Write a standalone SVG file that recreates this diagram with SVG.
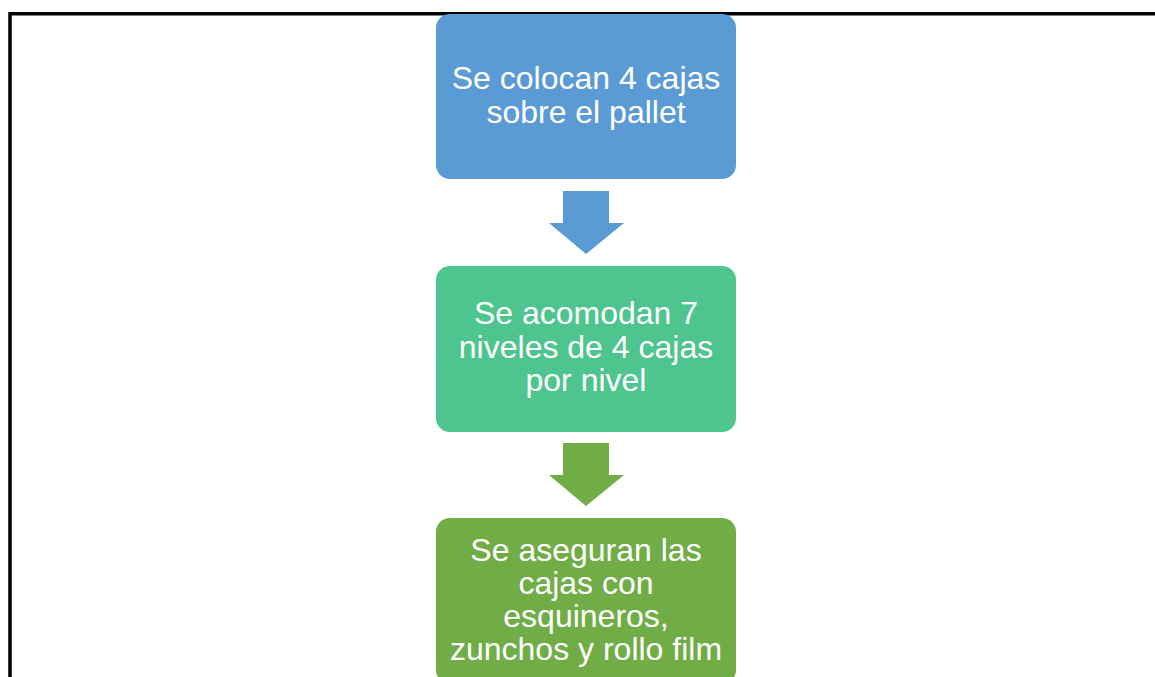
<svg xmlns="http://www.w3.org/2000/svg" width="1155" height="677" viewBox="0 0 1155 677">
<style>
.t{font-family:"Liberation Sans",Arial,sans-serif;font-size:32px;fill:#ffffff;text-anchor:middle}
</style>
<rect width="1155" height="677" fill="#ffffff"/>
<rect id="frame" x="10" y="13.75" width="1160" height="700" fill="none" stroke="#000000" stroke-width="3.5"/>
<g id="connectors">
<polygon points="563,191 609,191 609,223 624,223 586,254 549,223 563,223" fill="#5B9BD5"/>
<polygon points="563,443 609,443 609,475 624,475 586,506 549,475 563,475" fill="#70AD47"/>
</g>
<g id="node1">
<rect x="436" y="14" width="300" height="165" rx="14" fill="#5B9BD5"/>
<text class="t" x="586" y="89">Se colocan 4 cajas</text>
<text class="t" x="586" y="123">sobre el pallet</text>
</g>
<g id="node2">
<rect x="436" y="266" width="300" height="166" rx="14" fill="#4EC58E"/>
<text class="t" x="586" y="324">Se acomodan 7</text>
<text class="t" x="586" y="358">niveles de 4 cajas</text>
<text class="t" x="586" y="391">por nivel</text>
</g>
<g id="node3">
<rect x="436" y="518" width="300" height="166" rx="14" fill="#70AD47"/>
<text class="t" x="586" y="561">Se aseguran las</text>
<text class="t" x="586" y="594">cajas con</text>
<text class="t" x="586" y="627">esquineros,</text>
<text class="t" x="586" y="660">zunchos y rollo film</text>
</g>
</svg>
